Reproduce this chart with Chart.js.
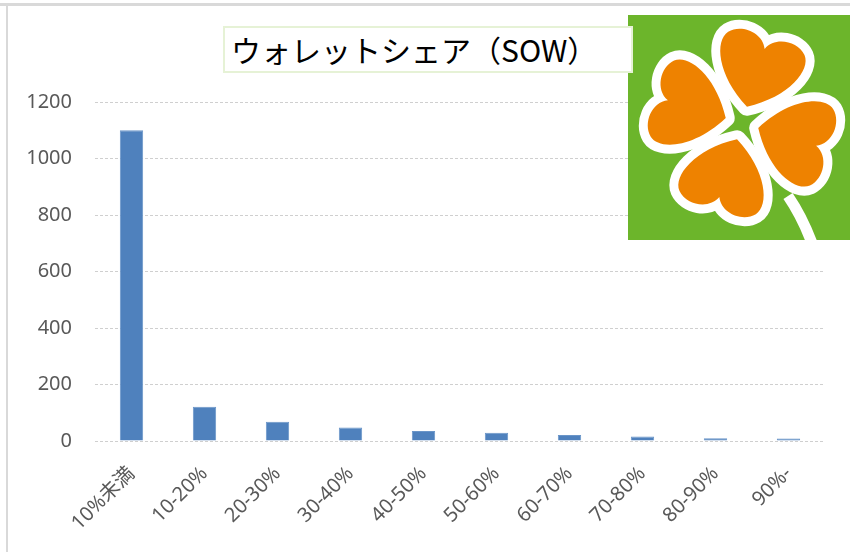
<!DOCTYPE html>
<html>
<head>
<meta charset="utf-8">
<script src="https://cdn.jsdelivr.net/npm/chart.js@4"></script>
<style>
  html, body { margin: 0; padding: 0; background: #fff; }
  #wrap { position: relative; width: 850px; height: 552px; overflow: hidden; }
  #title {
    position: absolute; left: 223px; top: 26px; width: 400px; height: 43px;
    border: 2px solid #e6f2d6; background: #fff;
    font-family: 'Noto Sans CJK JP', sans-serif; font-size: 30px; color: #000;
    line-height: 43px; padding-left: 6px; box-sizing: content-box;
    white-space: nowrap;
  }
</style>
</head>
<body>
<div id="wrap">
  <canvas id="chart" width="850" height="552"></canvas>
  <div id="title">ウォレットシェア（SOW）</div>
</div>
<script>
// data
const categories = ['10%未満', '10-20%', '20-30%', '30-40%', '40-50%', '50-60%', '60-70%', '70-80%', '80-90%', '90%-'];
const counts = [1100, 121, 68, 48, 35, 29, 21, 16, 10, 9];
const yTicks = [0, 200, 400, 600, 800, 1000, 1200];

const fontFamily = "'Noto Sans', 'Noto Sans CJK JP', sans-serif";

// clover heart, tip at origin, lobes upward
function heartPath(ctx, a, h) {
  ctx.beginPath();
  ctx.moveTo(0, 0);
  ctx.bezierCurveTo(-a * 0.9, -h * 0.3, -a * 1.2, -h * 0.75, -a * 0.95, -h * 0.92);
  ctx.bezierCurveTo(-a * 0.7, -h * 1.08, -a * 0.15, -h * 1.05, 0, -h * 0.84);
  ctx.bezierCurveTo(a * 0.15, -h * 1.05, a * 0.7, -h * 1.08, a * 0.95, -h * 0.92);
  ctx.bezierCurveTo(a * 1.2, -h * 0.75, a * 0.9, -h * 0.3, 0, 0);
  ctx.closePath();
}

const decor = {
  id: 'decor',
  afterDraw(chart) {
    const ctx = chart.ctx;
    ctx.save();
    // frame
    ctx.fillStyle = '#d9d9d9';
    ctx.fillRect(0, 3, 850, 3);
    ctx.fillRect(6, 6, 2, 546);

    // logo
    ctx.beginPath();
    ctx.rect(628, 15, 222, 225);
    ctx.clip();
    ctx.fillStyle = '#6cb52b';
    ctx.fillRect(628, 15, 222, 225);

    // stem
    ctx.strokeStyle = '#fff';
    ctx.lineWidth = 11;
    ctx.beginPath();
    ctx.moveTo(788, 196);
    ctx.quadraticCurveTo(803, 218, 813, 246);
    ctx.stroke();

    const cx = 742, cy = 123;
    const angles = [17, 107, 197, 287];
    [['#fff', true], ['#ee8200', false]].forEach(([col, outline]) => {
      angles.forEach(deg => {
        ctx.save();
        ctx.translate(cx, cy);
        ctx.rotate(deg * Math.PI / 180);
        ctx.translate(0, -17);
        heartPath(ctx, 42, 72);
        ctx.fillStyle = col;
        ctx.fill();
        if (outline) {
          ctx.strokeStyle = col;
          ctx.lineWidth = 18;
          ctx.lineJoin = 'round';
          ctx.stroke();
        }
        ctx.restore();
      });
    });
    ctx.restore();
  }
};

new Chart(document.getElementById('chart'), {
  type: 'bar',
  data: {
    labels: categories,
    datasets: [{
      data: counts,
      backgroundColor: '#4f81bd',
      borderColor: '#6a95c8',
      borderWidth: 1,
      categoryPercentage: 1,
      barPercentage: 0.32
    }]
  },
  options: {
    responsive: false,
    animation: false,
    layout: { padding: { top: 102, right: 25, bottom: 0, left: 0 } },
    plugins: { legend: { display: false }, tooltip: { enabled: false } },
    scales: {
      x: {
        grid: { display: false },
        border: { display: false },
        ticks: {
          color: '#595959', font: { family: fontFamily, size: 20 },
          maxRotation: 45, minRotation: 45, padding: 13
        },
        afterFit(scale) { scale.height = 111; }
      },
      y: {
        min: 0, max: 1200,
        afterBuildTicks(scale) { scale.ticks = yTicks.map(v => ({ value: v })); },
        grid: { color: '#cfcfcf', drawTicks: false },
        border: { display: false, dash: [3, 2] },
        ticks: {
          color: '#595959', font: { family: fontFamily, size: 20 }, padding: 23,
          callback: v => String(v)
        },
        afterFit(scale) { scale.width = 95; }
      }
    }
  },
  plugins: [decor]
});
</script>
</body>
</html>
